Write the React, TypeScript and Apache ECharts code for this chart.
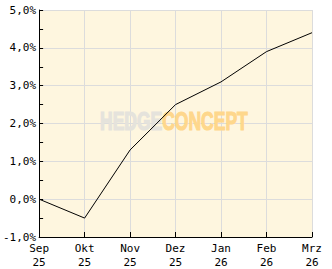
import React, { useEffect, useRef } from "react";
import * as echarts from "echarts";

const months = ["Sep\n25", "Okt\n25", "Nov\n25", "Dez\n25", "Jan\n26", "Feb\n26", "Mrz\n26"];
const values = [0.0, -0.5, 1.3, 2.5, 3.1, 3.9, 4.4];
const yMin = -1;
const yMax = 5;

export default function App() {
  const ref = useRef<HTMLDivElement>(null);
  useEffect(() => {
    const chart = echarts.init(ref.current!, null, { renderer: "svg" });
    const font = "'DejaVu Sans Mono', monospace";
    const wm = "'Liberation Sans', Arial, sans-serif";
    chart.setOption({
      animation: false,
      backgroundColor: "#ffffff",
      grid: {
        left: 35,
        top: 10,
        right: 20,
        bottom: 32,
        show: true,
        backgroundColor: "#fef6df",
        borderWidth: 0,
      },
      xAxis: {
        type: "category",
        data: months,
        boundaryGap: false,
        axisLine: { show: true, onZero: false, lineStyle: { color: "#000", width: 1 } },
        axisTick: { show: true, inside: true, length: 5, lineStyle: { color: "#000" } },
        axisLabel: { color: "#000", fontFamily: font, fontSize: 11, lineHeight: 14, margin: 4 },
        splitLine: { show: true, lineStyle: { color: "#dcdcdc", width: 1 } },
      },
      yAxis: {
        type: "value",
        min: yMin,
        max: yMax,
        interval: 1,
        axisLine: { show: true, lineStyle: { color: "#000", width: 1 } },
        axisTick: { show: true, inside: true, length: 4, lineStyle: { color: "#000" } },
        minorTick: { show: true, splitNumber: 2, length: 4, lineStyle: { color: "#000" } },
        axisLabel: {
          color: "#000",
          fontFamily: font,
          fontSize: 11,
          margin: 3,
          formatter: (v: number) => v.toFixed(1).replace(".", ",") + "%",
        },
        splitLine: { show: true, lineStyle: { color: "#dcdcdc", width: 1 } },
      },
      graphic: [
        {
          type: "text",
          x: 100,
          y: 109,
          scaleX: 0.7,
          z: 1,
          style: {
            text: "{a|HEDGE}{b|CONCEPT}",
            rich: {
              a: { fill: "#e5e3dc", stroke: "#e5e3dc", lineWidth: 1.2, fontFamily: wm, fontWeight: "bold", fontSize: 25 },
              b: { fill: "#fed78c", stroke: "#fed78c", lineWidth: 1.2, fontFamily: wm, fontWeight: "bold", fontSize: 25 },
            },
          },
        },
      ],
      series: [
        {
          type: "line",
          z: 5,
          data: values,
          showSymbol: false,
          lineStyle: { color: "#000", width: 1 },
          itemStyle: { color: "#000" },
        },
      ],
    });
    return () => chart.dispose();
  }, []);
  return <div ref={ref} style={{ position: "fixed", left: 0, top: 0, width: 332, height: 269 }} />;
}
